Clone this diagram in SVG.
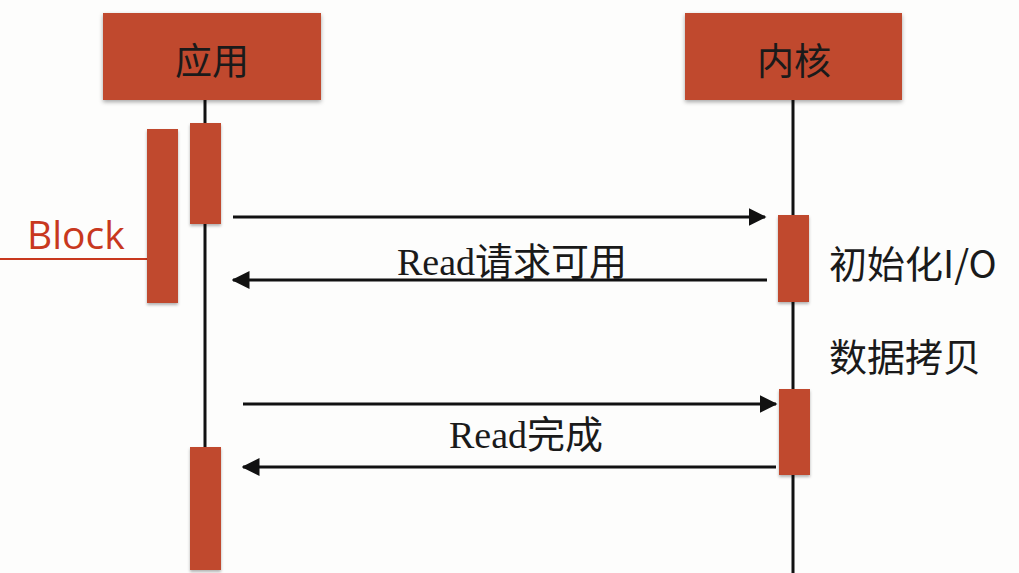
<svg xmlns="http://www.w3.org/2000/svg" width="1019" height="573" viewBox="0 0 1019 573">
<style>
.box{fill:#c0492e;filter:url(#sh)}
.bar{fill:#c0492e;filter:url(#sh2)}
.life{stroke:#111;stroke-width:3;fill:none}
.msg{stroke:#111;stroke-width:3;fill:none}
.title{font-family:"Liberation Serif","Noto Sans CJK SC",serif;font-size:37px;fill:#1a1a1a;text-anchor:middle}
.lbl{font-family:"Liberation Serif","Noto Sans CJK SC",serif;font-size:38px;fill:#1a1a1a;text-anchor:middle}
.note{font-family:"Noto Sans CJK SC",sans-serif;font-size:38px;fill:#1a1a1a}
.blk{font-family:"Open Sans","Liberation Sans",sans-serif;font-size:39px;fill:#c8381e}
</style>
<defs>
<filter id="sh" x="-10%" y="-10%" width="120%" height="130%"><feDropShadow dx="0" dy="2" stdDeviation="2" flood-color="#000" flood-opacity="0.35"/></filter>
<filter id="sh2" x="-30%" y="-5%" width="160%" height="115%"><feDropShadow dx="0" dy="2" stdDeviation="1.5" flood-color="#000" flood-opacity="0.3"/></filter>
<marker id="ah" markerWidth="6" markerHeight="6" refX="5.5" refY="3" orient="auto" markerUnits="strokeWidth"><path d="M0,0 L6,3 L0,6 z" fill="#111"/></marker>
</defs>
<rect width="1019" height="573" fill="#fdfdfc"/>
<g id="lifelines">
<line class="life" x1="205" y1="100" x2="205" y2="450"/>
<line class="life" x1="793" y1="100" x2="793" y2="573"/>
</g>
<g id="app">
<rect class="box" x="103" y="13" width="218" height="87"/>
<text class="title" x="212" y="75">应用</text>
</g>
<g id="kernel">
<rect class="box" x="685" y="13" width="217" height="87"/>
<text class="title" x="794" y="75">内核</text>
</g>
<g id="app-act1"><rect class="bar" x="190" y="123" width="31" height="101"/></g>
<g id="app-act2"><rect class="bar" x="190" y="447" width="31" height="123"/></g>
<g id="kernel-act1"><rect class="bar" x="778" y="215" width="31" height="87"/></g>
<g id="kernel-act2"><rect class="bar" x="779" y="389" width="31" height="86"/></g>
<g id="block">
<line x1="0" y1="259" x2="147" y2="259" stroke="#c8381e" stroke-width="2"/>
<rect class="bar" x="147" y="129" width="31" height="174"/>
<text class="blk" x="27" y="249">Block</text>
</g>
<g id="connectors">
<line class="msg" x1="233" y1="217" x2="765" y2="217" marker-end="url(#ah)"/>
<line class="msg" x1="767" y1="280" x2="233" y2="280" marker-end="url(#ah)"/>
<line class="msg" x1="243" y1="404" x2="776" y2="404" marker-end="url(#ah)"/>
<line class="msg" x1="776" y1="467" x2="243" y2="467" marker-end="url(#ah)"/>
</g>
<g id="labels">
<text class="lbl" x="512" y="275">Read请求可用</text>
<text class="lbl" x="526" y="448">Read完成</text>
<text class="note" x="829" y="278">初始化I/O</text>
<text class="note" x="829" y="371">数据拷贝</text>
</g>
</svg>
